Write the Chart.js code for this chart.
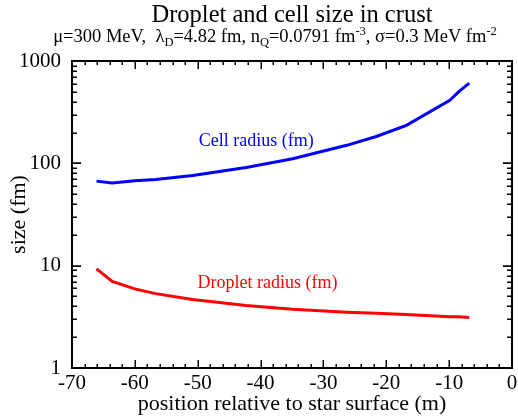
<!DOCTYPE html>
<html>
<head>
<meta charset="utf-8">
<script src="https://cdn.jsdelivr.net/npm/chart.js@4"></script>
<style>
  html, body { margin: 0; padding: 0; background: #fff; }
  #wrap { width: 518px; height: 417px; }
</style>
</head>
<body>
<div id="wrap"><canvas id="chartCanvas"></canvas></div>
<script>
const positions = [-66.1, -63.6, -60, -56.7, -50.8, -42.3, -34.9, -26.3, -21.6, -16.8, -9.9, -8.5, -6.8];
const cellRadius = [67, 64.2, 67.5, 69.5, 76, 91, 111, 150, 183, 235, 412, 500, 607];
const dropletRadius = [9.3, 7.0, 5.93, 5.33, 4.68, 4.08, 3.75, 3.5, 3.42, 3.33, 3.16, 3.16, 3.12];
const xTicks = [-70, -60, -50, -40, -30, -20, -10, 0];
const yTicks = [1, 10, 100, 1000];

const serif = "'Liberation Serif', 'DejaVu Serif', serif";

function points(ys) {
  return positions.map((x, i) => ({ x, y: ys[i] }));
}

// black frame with inward ticks on all four sides, plus the text bits
const framePlugin = {
  id: "frame",
  afterDraw(c) {
    const ctx = c.ctx;
    const a = c.chartArea;
    const xs = c.scales.x, ys = c.scales.y;
    const L = Math.round(a.left), R = Math.round(a.right);
    const T = Math.round(a.top), B = Math.round(a.bottom);
    ctx.save();
    ctx.fillStyle = "#000";
    // frame, 2px
    ctx.fillRect(L - 1, T - 1, R - L + 2, 2);
    ctx.fillRect(L - 1, B - 1, R - L + 2, 2);
    ctx.fillRect(L - 1, T - 1, 2, B - T + 2);
    ctx.fillRect(R - 1, T - 1, 2, B - T + 2);
    // x ticks
    for (let v = -70; v <= 0; v += 2) {
      const px = Math.round(xs.getPixelForValue(v));
      const len = v % 10 === 0 ? 8 : 4;
      ctx.fillRect(px - 0.5, B - len, 1.5, len);
      ctx.fillRect(px - 0.5, T, 1.5, len);
    }
    // y ticks (log, 1..9 per decade)
    for (let d = 1; d <= 100; d *= 10) {
      for (let m = 1; m <= 10; m++) {
        const py = Math.round(ys.getPixelForValue(d * m));
        const len = m === 1 || m === 10 ? 9 : 5;
        ctx.fillRect(L, py - 0.5, len, 1.5);
        ctx.fillRect(R - len, py - 0.5, len, 1.5);
      }
    }

    // series labels
    ctx.font = "18px " + serif;
    ctx.textAlign = "center";
    ctx.textBaseline = "middle";
    ctx.fillStyle = "#0000ff";
    ctx.fillText("Cell radius (fm)", xs.getPixelForValue(-40.7), ys.getPixelForValue(164));
    ctx.fillStyle = "#ff0000";
    ctx.fillText("Droplet radius (fm)", xs.getPixelForValue(-38.9), ys.getPixelForValue(6.8));

    // title and subtitle with sub/superscripts
    ctx.fillStyle = "#000";
    ctx.font = "24.5px " + serif;
    ctx.textBaseline = "alphabetic";
    ctx.fillText("Droplet and cell size in crust", 292, 22);

    const parts = [
      ["μ=300 MeV,  λ", 0], ["D", 1], ["=4.82 fm, n", 0], ["Q", 1],
      ["=0.0791 fm", 0], ["-3", -1], [", σ=0.3 MeV fm", 0], ["-2", -1]
    ];
    const base = 18.5, small = 12.5, baseline = 42;
    let total = 0;
    parts.forEach(([t, k]) => {
      ctx.font = (k === 0 ? base : small) + "px " + serif;
      total += ctx.measureText(t).width;
    });
    let x = 275 - total / 2;
    ctx.textAlign = "left";
    parts.forEach(([t, k]) => {
      ctx.font = (k === 0 ? base : small) + "px " + serif;
      const y = k === 1 ? baseline + 4 : k === -1 ? baseline - 7 : baseline;
      ctx.fillText(t, x, y);
      x += ctx.measureText(t).width;
    });
    ctx.restore();
  }
};

new Chart(chartCanvas, {
  type: "line",
  data: {
    datasets: [
      {
        label: "Cell radius (fm)",
        data: points(cellRadius),
        borderColor: "#0000ff",
        borderWidth: 3,
        pointRadius: 0,
        tension: 0
      },
      {
        label: "Droplet radius (fm)",
        data: points(dropletRadius),
        borderColor: "#ff0000",
        borderWidth: 3,
        pointRadius: 0,
        tension: 0
      }
    ]
  },
  options: {
    responsive: true,
    maintainAspectRatio: false,
    animation: false,
    layout: { padding: { top: 61, right: 6, left: 0, bottom: 0 } },
    plugins: {
      legend: { display: false },
      tooltip: { enabled: false }
    },
    scales: {
      x: {
        type: "linear",
        min: -70,
        max: 0,
        afterBuildTicks: s => { s.ticks = xTicks.map(v => ({ value: v })); },
        afterFit: s => { s.height = 49; },
        grid: { display: false },
        border: { display: false },
        ticks: {
          color: "#000",
          font: { family: serif, size: 21 },
          padding: -5,
          maxRotation: 0
        },
        title: {
          display: true,
          text: "position relative to star surface (m)",
          color: "#000",
          font: { family: serif, size: 22 },
          padding: { top: -9, bottom: 0 }
        }
      },
      y: {
        type: "logarithmic",
        min: 1,
        max: 1000,
        afterBuildTicks: s => { s.ticks = yTicks.map(v => ({ value: v })); },
        afterFit: s => { s.width = 72; },
        grid: { display: false },
        border: { display: false },
        ticks: {
          color: "#000",
          font: { family: serif, size: 21 },
          padding: 3,
          callback: v => String(v)
        },
        title: {
          display: true,
          text: "size (fm)",
          color: "#000",
          font: { family: serif, size: 22 },
          padding: { top: 6, bottom: 0 }
        }
      }
    }
  },
  plugins: [framePlugin]
});
</script>
</body>
</html>
